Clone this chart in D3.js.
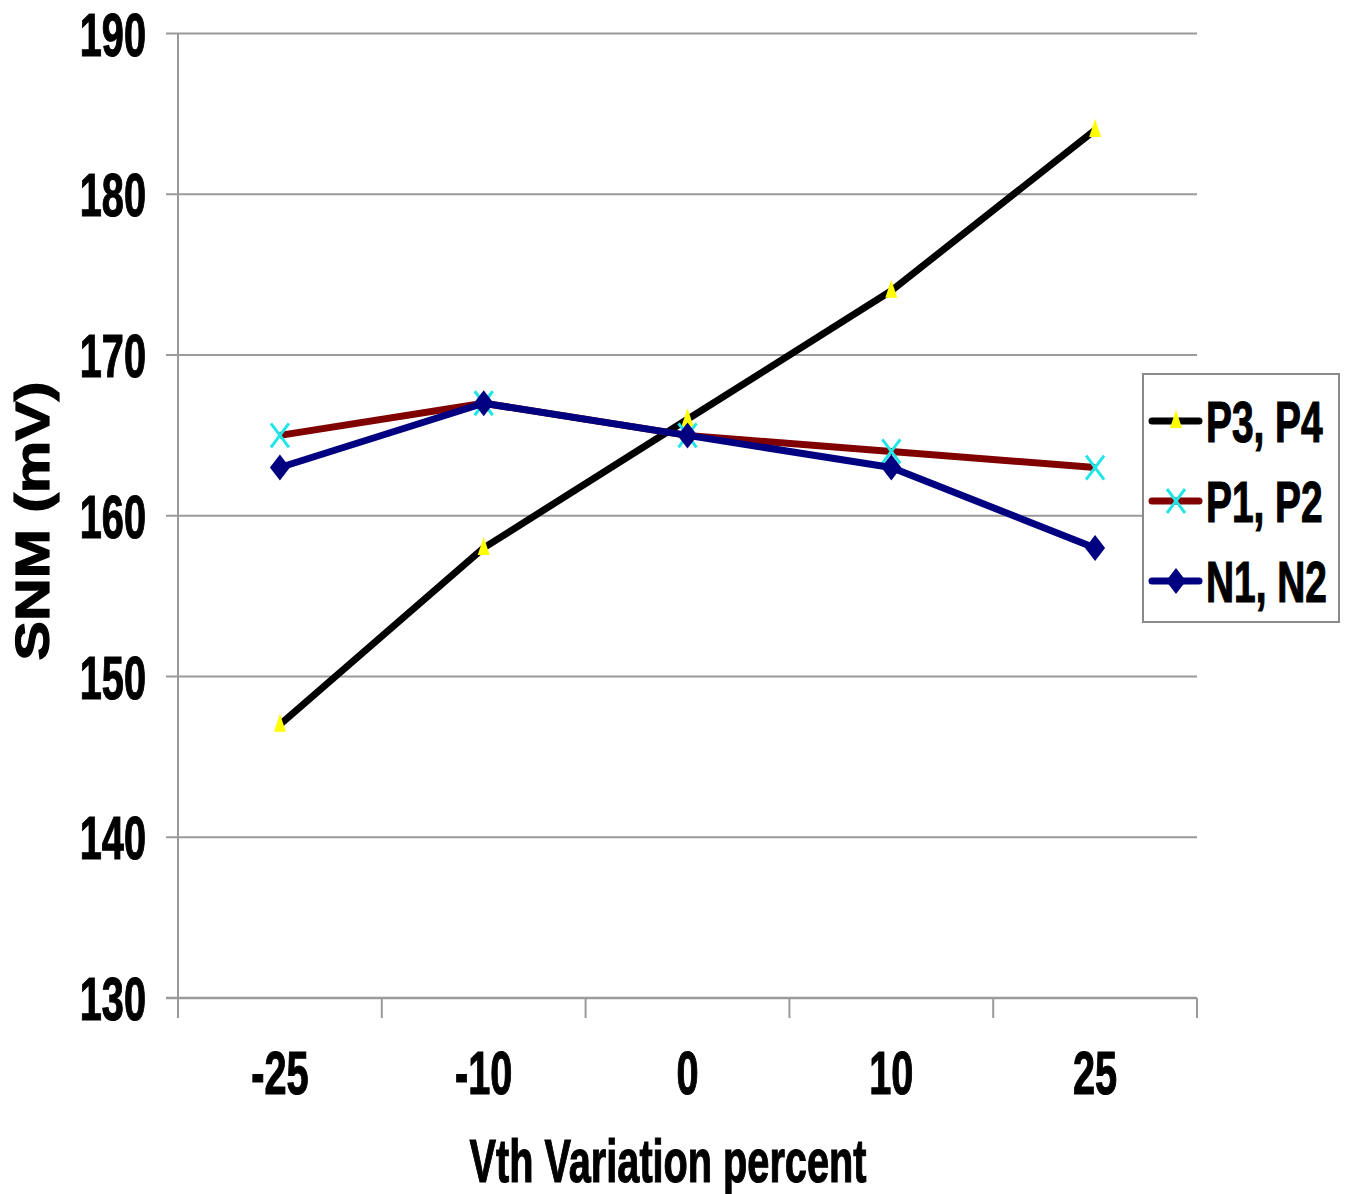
<!DOCTYPE html>
<html>
<head>
<meta charset="utf-8">
<script src="https://cdn.jsdelivr.net/npm/d3@7"></script>
<style>
  html, body { margin: 0; padding: 0; background: #fff; }
  svg { display: block; }
  text { font-family: "Liberation Sans", Arial, sans-serif; font-weight: bold; fill: #000; stroke: #000; stroke-width: 1.2px; }
</style>
</head>
<body>
<script>
// Vth variation (percent) on the x axis
const categories = ["-25", "-10", "0", "10", "25"];
// SNM in mV for each transistor pair
const seriesNames = ["P3, P4", "P1, P2", "N1, N2"];
const p3p4 = [147, 158, 166, 174, 184];
const p1p2 = [165, 167, 165, 164, 163];
const n1n2 = [163, 167, 165, 163, 158];
const yTicks = [130, 140, 150, 160, 170, 180, 190];

const W = 1351, H = 1194;
const plot = { left: 178, right: 1197, top: 33.5, bottom: 998 };
const sx = 0.64; // horizontal squeeze of the lettering

const svg = d3.select("body").append("svg").attr("width", W).attr("height", H);

const x = d3.scalePoint().domain(categories).range([plot.left, plot.right]).padding(0.5);
const xBand = d3.scaleBand().domain(categories).range([plot.left, plot.right]);
const y = d3.scaleLinear().domain([130, 190]).range([plot.bottom, plot.top]);

const gridColor = "#9a9a9a";

// horizontal gridlines with short ticks to the left
svg.append("g").selectAll("line").data(yTicks.filter(d => d > 130)).join("line")
  .attr("x1", plot.left - 12).attr("x2", plot.right)
  .attr("y1", d => y(d)).attr("y2", d => y(d))
  .attr("stroke", gridColor).attr("stroke-width", 2);

// value axis line
svg.append("line")
  .attr("x1", plot.left).attr("x2", plot.left)
  .attr("y1", plot.top).attr("y2", plot.bottom + 20)
  .attr("stroke", gridColor).attr("stroke-width", 2);

// category axis line with ticks between categories
svg.append("line")
  .attr("x1", plot.left - 12).attr("x2", plot.right)
  .attr("y1", plot.bottom).attr("y2", plot.bottom)
  .attr("stroke", gridColor).attr("stroke-width", 2.5);
const bounds = categories.map(c => xBand(c)).concat([plot.right]);
svg.append("g").selectAll("line").data(bounds.slice(1)).join("line")
  .attr("x1", d => d).attr("x2", d => d)
  .attr("y1", plot.bottom).attr("y2", plot.bottom + 20)
  .attr("stroke", gridColor).attr("stroke-width", 2);

// squeezed text helper
function label(g, txt, px, py, size, anchor, scale) {
  g.append("g").attr("transform", `translate(${px},${py}) scale(${scale || sx},1)`)
    .append("text").attr("text-anchor", anchor).attr("font-size", size).text(txt);
}

// y tick labels
const yl = svg.append("g");
yTicks.forEach(t => label(yl, t, 146, y(t) + 22, 62, "end"));

// x tick labels
const xl = svg.append("g");
categories.forEach(c => label(xl, c, x(c), 1094, 62, "middle"));

// axis titles
label(svg, "Vth Variation percent", 668, 1182, 62, "middle");
svg.append("g").attr("transform", "translate(49,521) rotate(-90) scale(1.23,1)")
  .append("text").attr("text-anchor", "middle").attr("font-size", 48).text("SNM (mV)");

// series definitions
const series = [
  { name: seriesNames[0], values: p3p4, color: "#000000", marker: "triangle" },
  { name: seriesNames[1], values: p1p2, color: "#800000", marker: "x" },
  { name: seriesNames[2], values: n1n2, color: "#000080", marker: "diamond" }
];

const line = d3.line().x((d, i) => x(categories[i])).y(d => y(d));

function drawMarker(g, kind, cx, cy) {
  if (kind === "triangle") {
    g.append("path").attr("d", `M${cx},${cy - 11} L${cx + 6},${cy + 7} L${cx - 6},${cy + 7} Z`)
      .attr("fill", "#ffff00");
  } else if (kind === "x") {
    g.append("path").attr("d", `M${cx - 9},${cy - 12} L${cx + 9},${cy + 12} M${cx + 9},${cy - 12} L${cx - 9},${cy + 12}`)
      .attr("stroke", "#22e6e6").attr("stroke-width", 3).attr("fill", "none");
  } else {
    g.append("path").attr("d", `M${cx},${cy - 13} L${cx + 10},${cy} L${cx},${cy + 13} L${cx - 10},${cy} Z`)
      .attr("fill", "#000080");
  }
}

series.forEach(s => {
  const g = svg.append("g");
  g.append("path").datum(s.values).attr("d", line)
    .attr("fill", "none").attr("stroke", s.color).attr("stroke-width", 7)
    .attr("stroke-linejoin", "round");
  s.values.forEach((v, i) => drawMarker(g, s.marker, x(categories[i]), y(v)));
});

// legend
const lg = svg.append("g");
lg.append("rect").attr("x", 1143).attr("y", 374).attr("width", 196).attr("height", 248)
  .attr("fill", "#fff").attr("stroke", "#8a8a8a").attr("stroke-width", 2);
series.forEach((s, i) => {
  const cy = 421 + i * 80;
  lg.append("line").attr("x1", 1152).attr("x2", 1199).attr("y1", cy).attr("y2", cy)
    .attr("stroke", s.color).attr("stroke-width", 7).attr("stroke-linecap", "round");
  drawMarker(lg, s.marker, 1176, cy);
  label(lg, s.name, 1206, cy + 21, 58, "start", 0.67);
});
</script>
</body>
</html>
